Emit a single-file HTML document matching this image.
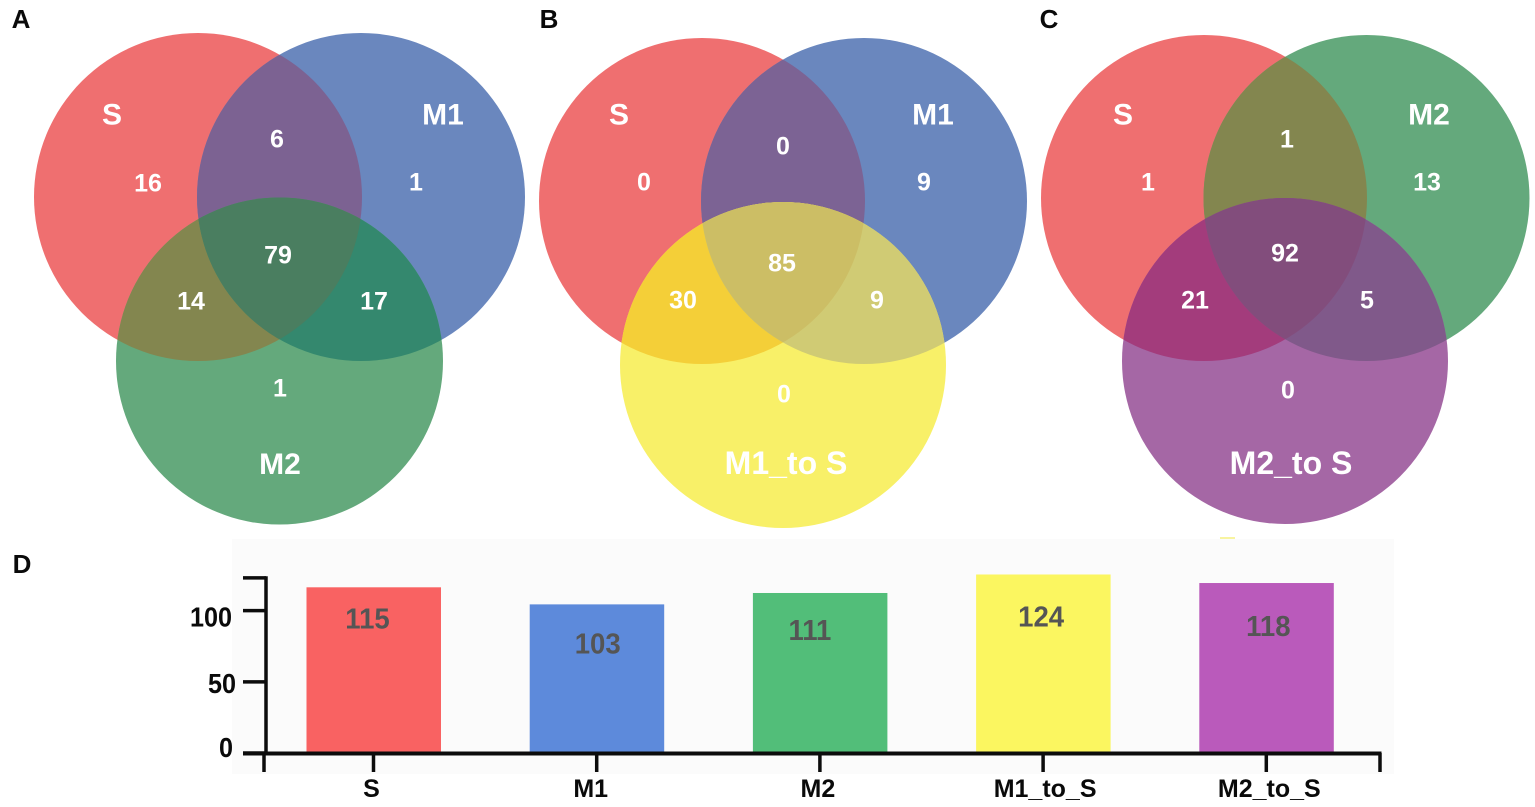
<!DOCTYPE html>
<html lang="en">
<head>
<meta charset="utf-8">
<title>Venn diagrams and bar chart</title>
<style>
html,body{margin:0;padding:0;background:#fff;width:1535px;height:807px;overflow:hidden}
svg{display:block;font-family:"Liberation Sans",sans-serif;font-weight:bold}
.n{font-size:25px;fill:#fff;text-anchor:middle}
.l{font-size:30px;fill:#fff;text-anchor:middle}
.ll{font-size:32px;fill:#fff;text-anchor:middle}
.p{font-size:26px;fill:#0a0a0a;text-anchor:middle}
</style>
</head>
<body>
<svg id="fig" width="1535" height="807" viewBox="0 0 1535 807" xmlns="http://www.w3.org/2000/svg">
<defs>
<clipPath id="a1"><circle cx="198" cy="197" r="164"/></clipPath>
<clipPath id="a2"><circle cx="361" cy="197" r="164"/></clipPath>
<clipPath id="b1"><circle cx="702" cy="201" r="163"/></clipPath>
<clipPath id="b2"><circle cx="864" cy="201" r="163"/></clipPath>
<clipPath id="c1"><circle cx="1204" cy="198" r="163"/></clipPath>
<clipPath id="c2"><circle cx="1366.5" cy="198" r="163"/></clipPath>
</defs>

<text class="p" x="21" y="28">A</text>
<text class="p" x="549" y="28">B</text>
<text class="p" x="1049" y="28">C</text>
<text class="p" x="22" y="573">D</text>

<g>
<circle cx="198" cy="197" r="164" fill="#EF6F70"/>
<circle cx="361" cy="197" r="164" fill="#6A87BE"/>
<circle cx="361" cy="197" r="164" fill="#7C6292" clip-path="url(#a1)"/>
<circle cx="279.5" cy="361" r="163.5" fill="#64A97C"/>
<circle cx="279.5" cy="361" r="163.5" fill="#83864F" clip-path="url(#a1)"/>
<circle cx="279.5" cy="361" r="163.5" fill="#34886E" clip-path="url(#a2)"/>
<g clip-path="url(#a1)"><circle cx="279.5" cy="361" r="163.5" fill="#4A7E60" clip-path="url(#a2)"/></g>
<text class="l" x="112" y="124.500">S</text>
<text class="l" x="443" y="124.500">M1</text>
<text class="l" x="280" y="474">M2</text>
<text class="n" x="148" y="191.500">16</text>
<text class="n" x="277" y="147.500">6</text>
<text class="n" x="416" y="190.500">1</text>
<text class="n" x="278" y="263.500">79</text>
<text class="n" x="191" y="309.500">14</text>
<text class="n" x="374" y="309.500">17</text>
<text class="n" x="280" y="396.500">1</text>
</g>

<g>
<circle cx="702" cy="201" r="163" fill="#EF6F70"/>
<circle cx="864" cy="201" r="163" fill="#6A87BE"/>
<circle cx="864" cy="201" r="163" fill="#7C6394" clip-path="url(#b1)"/>
<circle cx="783" cy="365" r="163" fill="#F8F068"/>
<circle cx="783" cy="365" r="163" fill="#F4CF38" clip-path="url(#b1)"/>
<circle cx="783" cy="365" r="163" fill="#D0CB74" clip-path="url(#b2)"/>
<g clip-path="url(#b1)"><circle cx="783" cy="365" r="163" fill="#CCBE65" clip-path="url(#b2)"/></g>
<text class="l" x="619" y="124.500">S</text>
<text class="l" x="933" y="124.500">M1</text>
<text class="ll" x="786" y="474">M1_to S</text>
<text class="n" x="644" y="190.500">0</text>
<text class="n" x="783" y="154.500">0</text>
<text class="n" x="924" y="190.500">9</text>
<text class="n" x="782" y="271.500">85</text>
<text class="n" x="683" y="308.500">30</text>
<text class="n" x="877" y="308.500">9</text>
<text class="n" x="784" y="402.500">0</text>
</g>

<g>
<circle cx="1204" cy="198" r="163" fill="#EF6F70"/>
<circle cx="1366.5" cy="198" r="163" fill="#64A97C"/>
<circle cx="1366.5" cy="198" r="163" fill="#83864F" clip-path="url(#c1)"/>
<circle cx="1285" cy="361" r="163" fill="#A567A5"/>
<circle cx="1285" cy="361" r="163" fill="#A33C7C" clip-path="url(#c1)"/>
<circle cx="1285" cy="361" r="163" fill="#80598A" clip-path="url(#c2)"/>
<g clip-path="url(#c1)"><circle cx="1285" cy="361" r="163" fill="#824D7C" clip-path="url(#c2)"/></g>
<text class="l" x="1123" y="124.500">S</text>
<text class="l" x="1429" y="124.500">M2</text>
<text class="ll" x="1291" y="474">M2_to S</text>
<text class="n" x="1148" y="190.500">1</text>
<text class="n" x="1287" y="147.500">1</text>
<text class="n" x="1427" y="190.500">13</text>
<text class="n" x="1285" y="261.500">92</text>
<text class="n" x="1195" y="308.500">21</text>
<text class="n" x="1367" y="308.500">5</text>
<text class="n" x="1288" y="398.500">0</text>
</g>

<g id="chart">
<rect x="232" y="539" width="1162" height="235" fill="#FBFBFB"/>
<rect x="1220" y="537" width="15" height="2" fill="#F8F4A0"/>
</g>
</svg>
<script>
const categories = ['S', 'M1', 'M2', 'M1_to_S', 'M2_to_S'];
const seriesValues = [115, 103, 111, 124, 118];
const yTicks = [0, 50, 100, 123];
const yTickLabels = ['0', '50', '100', ''];

const barColors = ['#F96262', '#5D8ADB', '#52BE79', '#FBF660', '#BA5ABB'];
const labelNudgeX = [-6, 1, -10, -2, 2];
const labelDrop = [41, 49, 47, 52, 53];
const catLabelNudge = [-2, -6, -2, 2, 3];
const tickLabelNudge = { 0: [-32, -5], 50: [-29, 2], 100: [-33, 7] };

const NS = 'http://www.w3.org/2000/svg';
const chart = document.getElementById('chart');
const xScale = function (i) { return 373.5 + i * 223.2; };
const yScale = function (v) { return 751 - v * 1.4235; };
const axisY = function (v) { return yScale(v) + 2; };

function mk(tag, attrs, text) {
  const el = document.createElementNS(NS, tag);
  Object.keys(attrs).forEach(function (k) { el.setAttribute(k, attrs[k]); });
  if (text !== undefined) el.textContent = text;
  chart.appendChild(el);
  return el;
}

seriesValues.forEach(function (v, i) {
  const bar = mk('rect', { x: xScale(i) - 67, y: yScale(v), width: 134.5, height: 751 - yScale(v) + 1, fill: barColors[i] });
  
  
  const lx = xScale(i) + labelNudgeX[i];
  const ly = yScale(v) + labelDrop[i];
  const label = mk('text', { transform: 'translate(' + lx + ' ' + ly + ') scale(0.95 1)', 'text-anchor': 'middle', 'font-size': 29, fill: '#555555' }, String(v));
  
  
});

const yAxis = mk('line', { x1: 266, x2: 266, y1: axisY(123) - 1.7, y2: axisY(0), stroke: '#0c0c0c', 'stroke-width': 3.5 });



const xAxis = mk('line', { x1: 243, x2: 1381.500, y1: 753.500, y2: 753.500, stroke: '#0c0c0c', 'stroke-width': 4 });



yTicks.forEach(function (t, i) {
  const tick = mk('line', { x1: 243, x2: 266, y1: axisY(t), y2: axisY(t), stroke: '#0c0c0c', 'stroke-width': 3.5 });
  
  
  if (yTickLabels[i]) {
    const n = tickLabelNudge[t];
    const tx = 265 + n[0];
    const ty = axisY(t) + n[1] + 9;
    const lab = mk('text', { transform: 'translate(' + tx + ' ' + ty + ') scale(0.9 1)', 'text-anchor': 'end', 'font-size': 28, fill: '#0a0a0a' }, yTickLabels[i]);
    
    
  }
});

categories.forEach(function (c, i) {
  const tick = mk('line', { x1: xScale(i), x2: xScale(i), y1: 753, y2: 772, stroke: '#0c0c0c', 'stroke-width': 3.5 });
  
  
  const lab = mk('text', { x: xScale(i) + catLabelNudge[i], y: 797, 'text-anchor': 'middle', 'font-size': 25, fill: '#0a0a0a' }, c);
  
  
});

[264, 1380].forEach(function (x) {
  const end = mk('line', { x1: x, x2: x, y1: 753, y2: 772, stroke: '#0c0c0c', 'stroke-width': 3.5 });
  
  
});
</script>
</body>
</html>
